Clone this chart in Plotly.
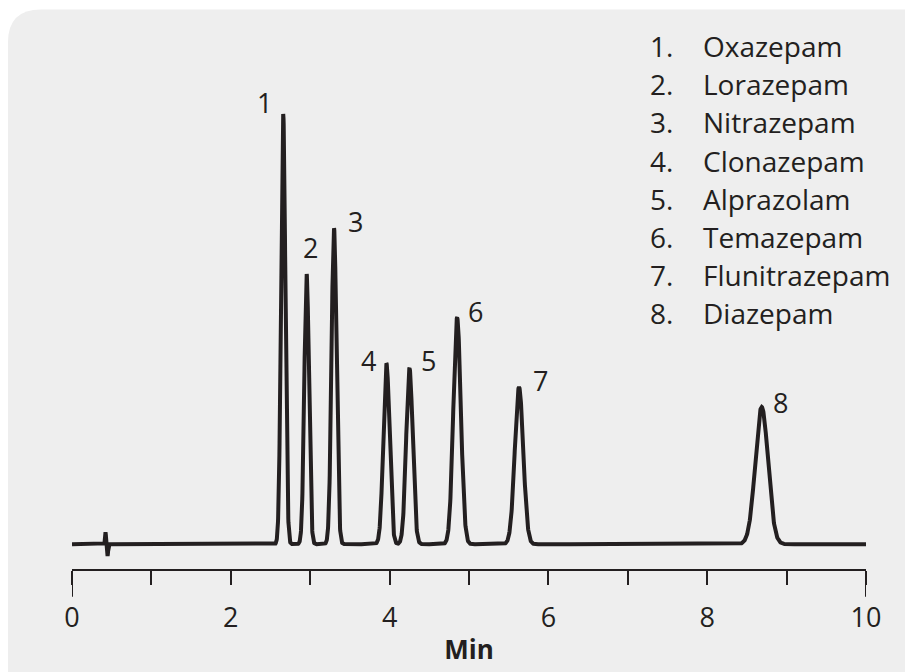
import numpy as np
import plotly.graph_objects as go

# ---- data ----
peak_numbers = [1, 2, 3, 4, 5, 6, 7, 8]
compounds = ["Oxazepam", "Lorazepam", "Nitrazepam", "Clonazepam",
             "Alprazolam", "Temazepam", "Flunitrazepam", "Diazepam"]
retention_min = [2.66, 2.955, 3.30, 3.96, 4.25, 4.85, 5.63, 8.686]
peak_height = [433, 272, 318, 182, 177, 228, 158, 138]
peak_sigma = [0.027, 0.029, 0.031, 0.039, 0.041, 0.047, 0.053, 0.080]
# injection disturbance near the solvent front
blip_min = [0.422, 0.448]
blip_height = [12, -12]
blip_sigma = [0.006, 0.006]
x_tick_vals = [0, 1, 2, 3, 4, 5, 6, 7, 8, 9, 10]
x_tick_text = ["0", "", "2", "", "4", "", "6", "", "8", "", "10"]

# ---- layout constants (page pixels; page body has an 8 px margin) ----
OFF = 8
W, H = 913 - OFF, 672 - OFF
L = 72 - OFF
R = W - (866 - OFF)
B = H - (572 - OFF)
T = 100 - OFF
PW, PH = W - L - R, H - T - B
INK = "#231f20"
FONT = "Open Sans"

def px(x):
    return (x - OFF - L) / PW

def py(y):
    return (H - B - (y - OFF)) / PH

# ---- trace ----
t = np.arange(0, 10.0001, 0.002)
signal = np.zeros_like(t)
for rt, h, s in zip(retention_min + blip_min, peak_height + blip_height,
                    peak_sigma + blip_sigma):
    signal += h * np.exp(-0.5 * ((t - rt) / s) ** 2)

fig = go.Figure()
fig.add_trace(go.Scatter(x=t, y=signal, mode="lines",
                         line=dict(color=INK, width=4),
                         hoverinfo="skip", showlegend=False))

# ---- panel background with rounded top-left corner ----
x0, y0 = px(8), py(9)
x1, y1 = px(913 + 20), py(672 + 20)
rx, ry = 33 / PW, 33 / PH
path = (f"M {x0},{y1} L {x0},{y0 - ry} Q {x0},{y0} {x0 + rx},{y0} "
        f"L {x1},{y0} L {x1},{y1} Z")
shapes = [dict(type="path", xref="paper", yref="paper", path=path,
               fillcolor="#eeeeee", line=dict(width=0), layer="below")]
# long end ticks at 0 and 10
for xv in [x_tick_vals[0], x_tick_vals[-1]]:
    shapes.append(dict(type="line", xref="x", yref="paper", x0=xv, x1=xv,
                       y0=0, y1=-28 / PH, line=dict(color=INK, width=2)))

annotations = []
# peak labels: offsets in pixels from apex
label_dx = [-19, 4, 21, -18, 19, 18, 21, 19]
label_dy = [9, 24, 5, 1, 6, 4, 5, 3]
for n, rt, h, dx, dy in zip(peak_numbers, retention_min, peak_height,
                            label_dx, label_dy):
    annotations.append(dict(x=rt, y=h, xref="x", yref="y", text=str(n),
                            showarrow=False, xshift=dx, yshift=dy + 2,
                            font=dict(family=FONT, size=27, color=INK)))
# compound list
for i, (n, name) in enumerate(zip(peak_numbers, compounds)):
    yc = py(46 + 38.3 * i)
    annotations.append(dict(x=px(648), y=yc, xref="paper", yref="paper",
                            text=f"{n}.", showarrow=False, xanchor="left",
                            yanchor="middle",
                            font=dict(family=FONT, size=28, color=INK)))
    annotations.append(dict(x=px(701), y=yc, xref="paper", yref="paper",
                            text=name, showarrow=False, xanchor="left",
                            yanchor="middle",
                            font=dict(family=FONT, size=28, color=INK)))

fig.update_layout(
    width=W, height=H,
    margin=dict(l=L, r=R, t=T, b=B, pad=0),
    paper_bgcolor="white", plot_bgcolor="rgba(0,0,0,0)",
    shapes=shapes, annotations=annotations,
    xaxis=dict(range=[0, 10], tickvals=x_tick_vals, ticktext=x_tick_text,
               ticks="outside", ticklen=14, tickwidth=2, tickcolor=INK,
               showline=True, linecolor=INK, linewidth=2,
               showgrid=False, zeroline=False, ticklabelstandoff=10,
               tickfont=dict(family=FONT, size=27, color=INK),
               title=dict(text="<b>Min</b>", standoff=6,
                          font=dict(family=FONT, size=26, color=INK))),
    yaxis=dict(range=[-25, PH - 25], visible=False),
)

fig.write_html("out.html")
